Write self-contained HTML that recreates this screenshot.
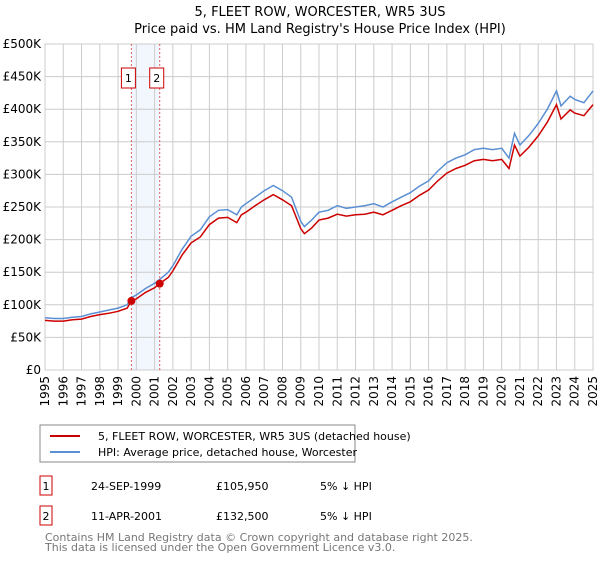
<!DOCTYPE html>
<html><head><meta charset="utf-8"><style>
body{margin:0;background:#fff;font-family:"Liberation Sans","DejaVu Sans",sans-serif;}
svg text{font-family:"DejaVu Sans","Liberation Sans",sans-serif;}
</style></head><body>
<svg id="c" width="600" height="560" xmlns="http://www.w3.org/2000/svg">
<text x="320" y="16" text-anchor="middle" font-size="13">5, FLEET ROW, WORCESTER, WR5 3US</text>
<text x="320" y="33" text-anchor="middle" font-size="13">Price paid vs. HM Land Registry's House Price Index (HPI)</text>
<g id="grid"></g><g id="series"></g><g id="axes"></g>
<g>
<rect x="40" y="425" width="315" height="37" fill="#fff" stroke="#888"/>
<line x1="50" y1="436" x2="80" y2="436" stroke="#cc0000" stroke-width="2"/>
<text x="98" y="440" font-size="11">5, FLEET ROW, WORCESTER, WR5 3US (detached house)</text>
<line x1="50" y1="452" x2="80" y2="452" stroke="#5b8fd4" stroke-width="2"/>
<text x="98" y="456" font-size="11">HPI: Average price, detached house, Worcester</text>
</g>
<g font-size="11">
<rect x="40" y="476" width="12" height="19" fill="#fff" stroke="#cc0000"/><text x="46" y="490" text-anchor="middle">1</text>
<text x="91" y="490">24-SEP-1999</text><text x="216" y="490">£105,950</text><text x="320" y="490">5% ↓ HPI</text>
<rect x="40" y="506" width="12" height="19" fill="#fff" stroke="#cc0000"/><text x="46" y="520" text-anchor="middle">2</text>
<text x="91" y="520">11-APR-2001</text><text x="216" y="520">£132,500</text><text x="320" y="520">5% ↓ HPI</text>
</g>
<text x="45" y="541" font-size="11" fill="#777">Contains HM Land Registry data © Crown copyright and database right 2025.</text>
<text x="45" y="551" font-size="11" fill="#777">This data is licensed under the Open Government Licence v3.0.</text>
</svg>
<script>
const years=[1995,1995.5,1996,1996.5,1997,1997.5,1998,1998.5,1999,1999.5,1999.73,2000,2000.5,2001,2001.28,2001.75,2002,2002.5,2003,2003.5,2004,2004.5,2005,2005.5,2005.75,2006,2006.5,2007,2007.5,2008,2008.5,2009,2009.2,2009.6,2010,2010.5,2011,2011.5,2012,2012.5,2013,2013.5,2014,2014.5,2015,2015.5,2016,2016.5,2017,2017.5,2018,2018.5,2019,2019.5,2020,2020.4,2020.7,2021,2021.5,2022,2022.5,2023,2023.25,2023.75,2024,2024.5,2025];
const hpiValues=[80,79,79,81,82,86,89,92,95,100,111,115,125,133,139,150,160,185,205,215,235,245,246,238,250,255,265,275,283,275,265,228,220,230,242,245,252,248,250,252,255,250,258,265,272,282,290,305,318,325,330,338,340,338,340,325,363,345,360,378,400,428,405,420,415,410,428];
const priceValues=[76,75,75,77,78,82,85,87,90,95,105.95,109,119,126,132.5,142,152,176,195,204,223,233,234,226,238,242,252,261,269,261,252,217,209,218,230,233,239,236,238,239,242,238,245,252,258,268,276,290,302,309,314,321,323,321,323,309,345,328,342,359,380,407,385,399,394,390,407];
const saleYears=[1999.73,2001.28];
const saleValues=[105.95,132.5];
const saleLabels=["1","2"];
const yTicks=[0,50,100,150,200,250,300,350,400,450,500];
const yTickLabels=["£0","£50K","£100K","£150K","£200K","£250K","£300K","£350K","£400K","£450K","£500K"];
const xTicks=[1995,1996,1997,1998,1999,2000,2001,2002,2003,2004,2005,2006,2007,2008,2009,2010,2011,2012,2013,2014,2015,2016,2017,2018,2019,2020,2021,2022,2023,2024,2025];
const X0=45,X1=593,Y0=370,Y1=44;
const xs=y=>X0+(y-1995)/30*(X1-X0);
const ys=v=>Y0-v/500*(Y0-Y1);
const NS="http://www.w3.org/2000/svg";
function mk(p,t,a){const e=document.createElementNS(NS,t);for(const k in a)e.setAttribute(k,a[k]);p.appendChild(e);return e;}
const grid=document.getElementById('grid'),ser=document.getElementById('series'),ax=document.getElementById('axes');
mk(grid,'rect',{x:X0,y:Y1,width:X1-X0,height:Y0-Y1,fill:'#fff',stroke:'#ccc'});
const band=mk(grid,'rect',{x:xs(saleYears[0]),y:Y1,width:xs(saleYears[1])-xs(saleYears[0]),height:Y0-Y1,fill:'#f2f6fd'});


yTicks.forEach((v,i)=>{
  mk(grid,'line',{x1:X0,x2:X1,y1:ys(v),y2:ys(v),stroke:'#ccc'});
  const t=mk(ax,'text',{x:X0-4,y:ys(v)+4,'text-anchor':'end','font-size':12});
  t.textContent=yTickLabels[i];
  
  
});
xTicks.forEach(y=>{
  mk(grid,'line',{x1:xs(y),x2:xs(y),y1:Y1,y2:Y0,stroke:'#ccc'});
  const t=mk(ax,'text',{x:0,y:0,'text-anchor':'end','font-size':12,transform:`translate(${xs(y)+4},${Y0+6}) rotate(-90)`});
  t.textContent=y;
  
  
});
saleYears.forEach((y,i)=>{
  const l=mk(ser,'line',{x1:xs(y),x2:xs(y),y1:Y1,y2:Y0,stroke:'#e06060','stroke-dasharray':'2,2'});
  
  
});
const pts=(v)=>years.map((y,i)=>xs(y).toFixed(1)+','+ys(v[i]).toFixed(1)).join(' ');
const h=mk(ser,'polyline',{points:pts(hpiValues),fill:'none',stroke:'#5b8fd4','stroke-width':1.5});


const p=mk(ser,'polyline',{points:pts(priceValues),fill:'none',stroke:'#cc0000','stroke-width':1.5});


saleYears.forEach((y,i)=>{
  const c=mk(ser,'circle',{cx:xs(y),cy:ys(saleValues[i]),r:4,fill:'#cc0000'});
  
  
  const bx=xs(y)-3;
  const r=mk(ser,'rect',{x:bx-7,y:68,width:14,height:20,fill:'#fff',stroke:'#cc0000'});
  
  
  const t=mk(ser,'text',{x:bx,y:82,'text-anchor':'middle','font-size':11});
  t.textContent=saleLabels[i];
  
  
});
</script>
</body></html>
